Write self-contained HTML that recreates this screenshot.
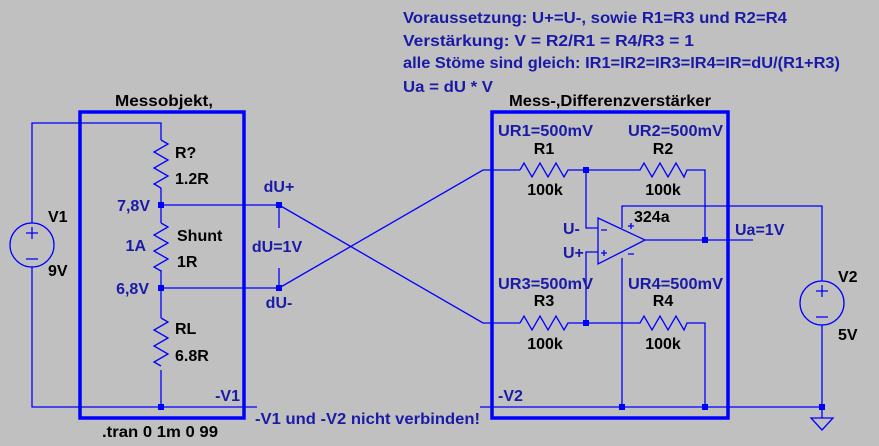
<!DOCTYPE html>
<html><head><meta charset="utf-8"><style>
html,body{margin:0;padding:0;background:#c0c0c0;}
svg{display:block;font-family:"Liberation Sans",sans-serif;font-weight:bold;}
.w{stroke:#0000ff;stroke-width:1.3;fill:none;}
.b{stroke:#0000ff;stroke-width:3.5;fill:none;}
.bt{fill:#1a1aa8;font-size:16px;}
.k{fill:#000;font-size:16px;}
.n{fill:#0000ff;}
</style></head><body>
<svg width="879" height="446" viewBox="0 0 879 446">
<rect width="879" height="446" fill="#c0c0c0"/>
<text class="bt" x="403" y="23" textLength="384" lengthAdjust="spacingAndGlyphs">Voraussetzung: U+=U-, sowie R1=R3 und R2=R4</text>
<text class="bt" x="403" y="46" textLength="291" lengthAdjust="spacingAndGlyphs">Verstärkung: V = R2/R1 = R4/R3 = 1</text>
<text class="bt" x="403" y="68" textLength="437" lengthAdjust="spacingAndGlyphs">alle Stöme sind gleich: IR1=IR2=IR3=IR4=IR=dU/(R1+R3)</text>
<text class="bt" x="403" y="92" textLength="90" lengthAdjust="spacingAndGlyphs">Ua = dU * V</text>

<rect class="b" x="80" y="112" width="164" height="306"/>
<text class="k" x="115" y="106" textLength="98" lengthAdjust="spacingAndGlyphs">Messobjekt,</text>
<rect class="b" x="492" y="112" width="236" height="306"/>
<text class="k" x="509" y="106" textLength="202" lengthAdjust="spacingAndGlyphs">Mess-,Differenzverstärker</text>

<path class="w" d="M32,223 V123 H161 V140 M161,188 V223 M161,270 V318 M161,370 V407 M32,267 V407 H257"/>
<path class="w" d="M161,140 l7,4 l-14,8 l14,8 l-14,8 l14,8 l-14,8 l7,4"/>
<path class="w" d="M161,223 l7,4 l-14,8 l14,8 l-14,8 l14,8 l-14,8 l7,4"/>
<path class="w" d="M161,318 l7,4 l-14,8 l14,8 l-14,8 l14,8 l-14,8 l7,4"/>
<circle class="w" cx="32" cy="245" r="22"/>
<path class="w" d="M26,233 h12 M32,227 v12 M26,259 h12"/>
<text class="k" x="48" y="222">V1</text>
<text class="k" x="48" y="276">9V</text>
<text class="k" x="175" y="158">R?</text>
<text class="k" x="175" y="184">1.2R</text>
<text class="k" x="177" y="241">Shunt</text>
<text class="k" x="177" y="267">1R</text>
<text class="k" x="175" y="334">RL</text>
<text class="k" x="175" y="361">6.8R</text>
<text class="bt" x="150" y="211" text-anchor="end">7,8V</text>
<text class="bt" x="146" y="251" text-anchor="end">1A</text>
<text class="bt" x="149" y="294" text-anchor="end">6,8V</text>
<text class="bt" x="240" y="401" text-anchor="end">-V1</text>
<text class="k" x="102" y="437" textLength="116" lengthAdjust="spacingAndGlyphs">.tran 0 1m 0 99</text>
<path class="w" d="M161,205 H279 V228 M161,288 H279 V268"/>
<text class="bt" x="279" y="192" text-anchor="middle">dU+</text>
<text class="bt" x="277" y="252" text-anchor="middle">dU=1V</text>
<text class="bt" x="279" y="308" text-anchor="middle">dU-</text>
<path class="w" d="M279,205 L483,323 H520 M279,288 L483,170 H520"/>
<text class="bt" x="255" y="424" textLength="225" lengthAdjust="spacingAndGlyphs">-V1 und -V2 nicht verbinden!</text>

<path class="w" d="M520,170 l4,-7 l8,14 l8,-14 l8,14 l8,-14 l8,14 l4,-7 H640 l4,-7 l8,14 l8,-14 l8,14 l8,-14 l8,14 l3,-7 H705 V240"/>
<path class="w" d="M520,323 l4,-7 l8,14 l8,-14 l8,14 l8,-14 l8,14 l4,-7 H640 l4,-7 l8,14 l8,-14 l8,14 l8,-14 l8,14 l3,-7 H705 V407"/>
<path class="w" d="M586,170 V228 H598 M586,323 V252 H598"/>
<path class="w" d="M598,218 L645,240 L598,264 Z"/>
<path class="w" d="M645,240 H753 M622,228 V206 H822 V281 M822,325 V407 M622,258 V407 M480,407 H822 V418"/>
<path class="w" d="M811,418 H833 L822,430 Z"/>
<circle class="w" cx="822" cy="303" r="22"/>
<path class="w" d="M816,291 h12 M822,285 v12 M816,317 h12"/>
<path class="w" d="M601,230 h6 M601,253 h6 M604,250 v6 M628,226 h6 M631,223 v6 M628,254 h6" stroke-width="1"/>
<text class="k" x="634" y="222">324a</text>
<text class="bt" x="563" y="234">U-</text>
<text class="bt" x="563" y="258">U+</text>
<text class="bt" x="735" y="235">Ua=1V</text>
<text class="k" x="838" y="282">V2</text>
<text class="k" x="838" y="340">5V</text>
<text class="bt" x="498" y="136" textLength="95" lengthAdjust="spacingAndGlyphs">UR1=500mV</text>
<text class="bt" x="628" y="136" textLength="95" lengthAdjust="spacingAndGlyphs">UR2=500mV</text>
<text class="k" x="544" y="154" text-anchor="middle">R1</text>
<text class="k" x="663" y="154" text-anchor="middle">R2</text>
<text class="k" x="545" y="195" text-anchor="middle">100k</text>
<text class="k" x="663" y="195" text-anchor="middle">100k</text>
<text class="bt" x="498" y="289" textLength="95" lengthAdjust="spacingAndGlyphs">UR3=500mV</text>
<text class="bt" x="628" y="289" textLength="95" lengthAdjust="spacingAndGlyphs">UR4=500mV</text>
<text class="k" x="544" y="306" text-anchor="middle">R3</text>
<text class="k" x="663" y="306" text-anchor="middle">R4</text>
<text class="k" x="545" y="349" text-anchor="middle">100k</text>
<text class="k" x="663" y="349" text-anchor="middle">100k</text>
<text class="bt" x="498" y="401">-V2</text>

<g class="n">
<rect x="158" y="202" width="6" height="6"/><rect x="158" y="285" width="6" height="6"/><rect x="158" y="404" width="6" height="6"/>
<rect x="276" y="202" width="6" height="6"/><rect x="276" y="285" width="6" height="6"/>
<rect x="583" y="167" width="6" height="6"/><rect x="583" y="320" width="6" height="6"/>
<rect x="702" y="237" width="6" height="6"/>
<rect x="619" y="404" width="6" height="6"/><rect x="702" y="404" width="6" height="6"/><rect x="819" y="404" width="6" height="6"/>
</g>
</svg>
</body></html>
